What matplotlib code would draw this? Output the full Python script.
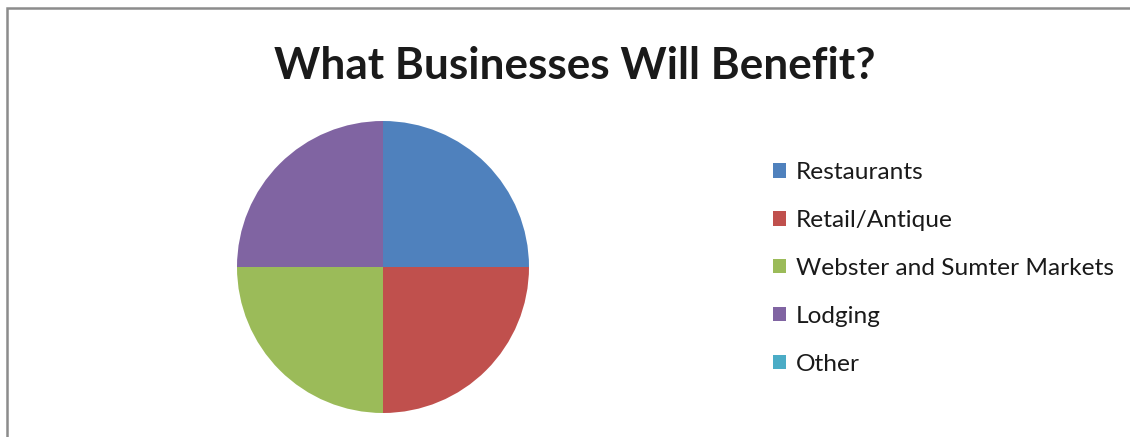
import matplotlib
matplotlib.use("Agg")
import matplotlib.pyplot as plt
from matplotlib.patches import Rectangle

categories = ["Restaurants", "Retail/Antique", "Webster and Sumter Markets", "Lodging", "Other"]
values = [25, 25, 25, 25, 0]
colors = ["#4F81BD", "#C0504D", "#9BBB59", "#8064A2", "#4BACC6"]
title = "What Businesses Will Benefit?"

W, H = 1130, 437
fig = plt.figure(figsize=(W / 100, H / 100), dpi=100)
fig.patch.set_facecolor("white")

# border
fig.patches.append(Rectangle((6.5 / W, -0.1), 1.2, (H - 8.5) / H + 0.1,
                             transform=fig.transFigure, fill=False,
                             edgecolor="#8c8c8c", linewidth=1.8, zorder=0))

cx, cy, r = 383, 267, 146
ax = fig.add_axes([(cx - r) / W, (H - cy - r) / H, 2 * r / W, 2 * r / H])
wedges, _ = ax.pie(values, colors=colors, startangle=90, counterclock=False,
                   radius=1, wedgeprops=dict(linewidth=0))
ax.set_xlim(-1, 1)
ax.set_ylim(-1, 1)
ax.set_aspect("auto")
ax.axis("off")

fig.text(575 / W, 1 - 66 / H, title, ha="center", va="center",
         fontsize=31.8, fontweight="bold", family="Lato", color="#1a1a1a")

leg = fig.legend(wedges, categories, loc="upper left",
                 bbox_to_anchor=(773 / W, 1 - 162 / H), frameon=False,
                 prop=dict(family="Lato", size=17.6), handlelength=0.54,
                 handleheight=0.54, handletextpad=0.4, labelspacing=1.10,
                 borderaxespad=0, borderpad=0)
for t in leg.get_texts():
    t.set_color("#1a1a1a")

fig.savefig("out.png", dpi=100)
